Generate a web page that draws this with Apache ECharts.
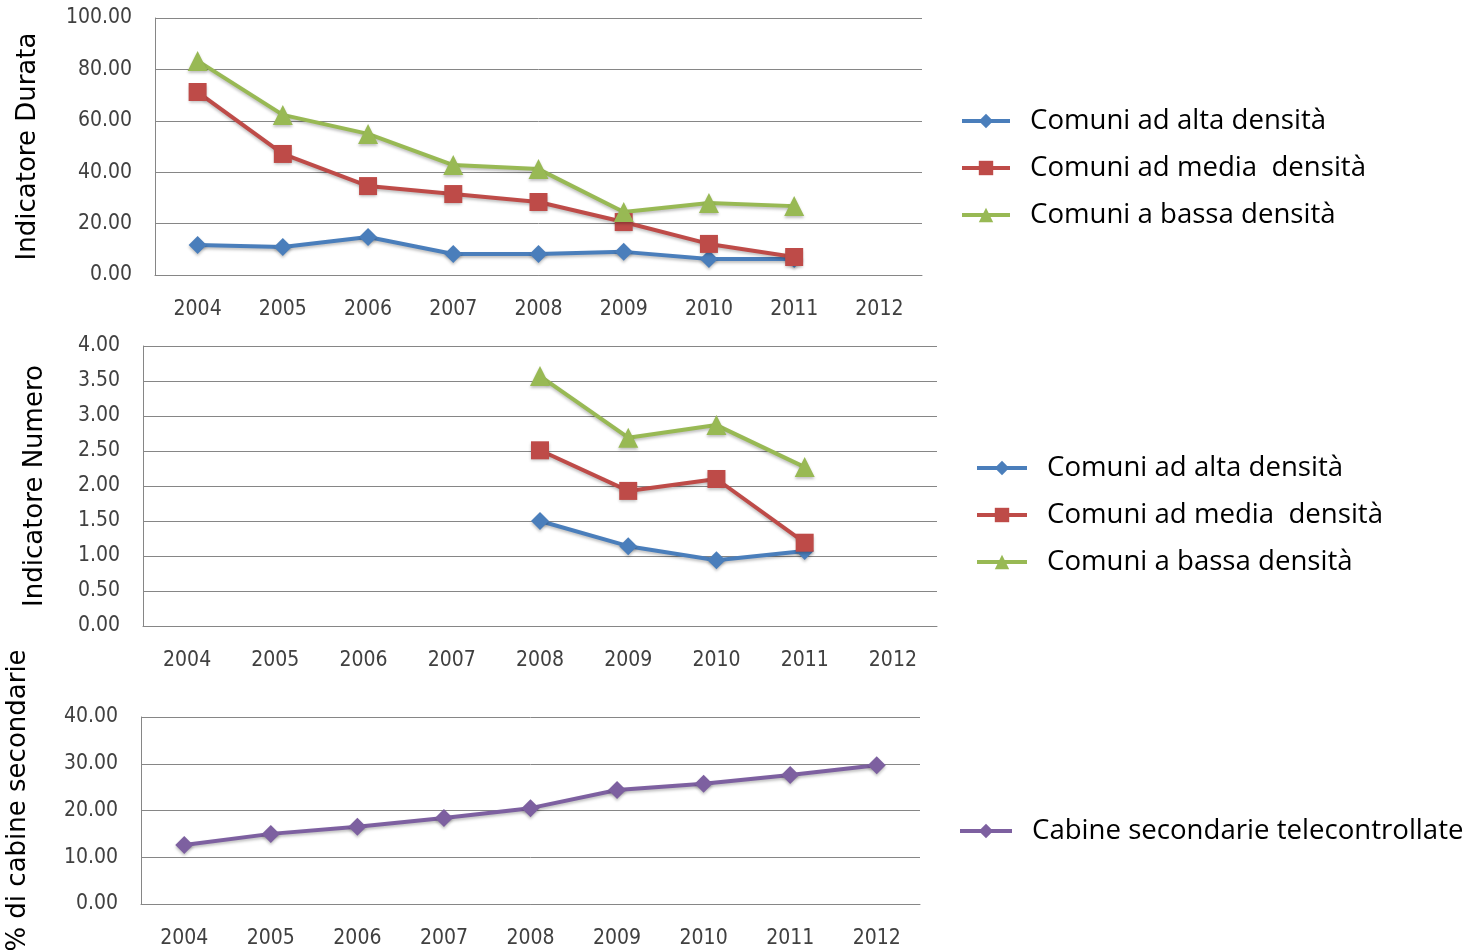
<!DOCTYPE html>
<html>
<head>
<meta charset="utf-8">
<script src="https://cdn.jsdelivr.net/npm/echarts@6/dist/echarts.min.js"></script>
<style>
html,body{margin:0;padding:0;background:#fff;}
#c{width:1474px;height:950px;}
</style>
</head>
<body>
<div id="c"></div>
<script>
const years = ['2004','2005','2006','2007','2008','2009','2010','2011','2012'];

const nameAlta = 'Comuni ad alta densità';
const nameMedia = 'Comuni ad media  densità';
const nameBassa = 'Comuni a bassa densità';
const nameCabine = 'Cabine secondarie telecontrollate';

// Chart 1: Indicatore Durata
const durataAlta  = [11.7, 10.9, 14.8, 8.2, 8.2, 9.0, 6.2, 6.2, null];
const durataMedia = [71.2, 47.1, 34.6, 31.5, 28.4, 20.6, 12.1, 7.0, null];
const durataBassa = [83.3, 62.3, 54.9, 42.8, 41.2, 24.5, 28.0, 26.8, null];

// Chart 2: Indicatore Numero
const numeroAlta  = [null, null, null, null, 1.50, 1.14, 0.94, 1.07, null];
const numeroMedia = [null, null, null, null, 2.51, 1.93, 2.10, 1.19, null];
const numeroBassa = [null, null, null, null, 3.57, 2.69, 2.87, 2.27, null];

// Chart 3: % di cabine secondarie
const cabine = [12.6, 15.0, 16.5, 18.4, 20.5, 24.4, 25.7, 27.6, 29.7];

const C_BLUE = '#4A7EBB', C_RED = '#BE4B48', C_GREEN = '#98B954', C_PURPLE = '#7D60A0';
const tickFont = '"DejaVu Sans Condensed","Liberation Sans Narrow","Liberation Sans",sans-serif';
const textFont = '"Open Sans","Liberation Sans",sans-serif';
const titleFont = '"DejaVu Sans",sans-serif';

function xAx(gi){
  return {type:'category', gridIndex:gi, data:years, boundaryGap:true,
    axisLine:{show:true, lineStyle:{color:'#868686', width:1}},
    axisTick:{show:false},
    axisLabel:{color:'#404040', fontSize:21, fontFamily:tickFont, margin:24}};
}
function yAx(gi, max, interval, name, gap, pad){
  return {type:'value', gridIndex:gi, min:0, max:max, interval:interval,
    name:name, nameLocation:'middle', nameGap:gap,
    nameTextStyle:{fontSize:26, fontFamily:titleFont, color:'#000', padding:pad},
    axisLine:{show:true, lineStyle:{color:'#868686', width:1}},
    axisTick:{show:false},
    splitLine:{show:true, lineStyle:{color:'#868686', width:1}},
    axisLabel:{color:'#404040', fontSize:21, fontFamily:tickFont, margin:23,
      formatter: v => v.toFixed(2)}};
}
function ser(name, data, gi, color, symbol, size){
  return {type:'line', name:name, data:data, xAxisIndex:gi, yAxisIndex:gi,
    symbol:symbol, symbolSize:size, showSymbol:true, connectNulls:false,
    lineStyle:{color:color, width:4, shadowColor:'rgba(0,0,0,0.25)', shadowBlur:3, shadowOffsetY:2},
    itemStyle:{color:color, shadowColor:'rgba(0,0,0,0.25)', shadowBlur:3, shadowOffsetY:2}};
}
function leg(names, left, top, w){
  return {orient:'vertical', left:left, top:top, data:names,
    itemWidth:w, itemHeight:18, itemGap:17,
    lineStyle:{width:4},
    textStyle:{fontSize:27.6, fontFamily:textFont, color:'#000', lineHeight:30, padding:[0,0,0,15]},
    selectedMode:false};
}

const chart = echarts.init(document.getElementById('c'), null, {renderer:'canvas'});
chart.setOption({
  animation:false,
  backgroundColor:'#fff',
  grid:[
    {left:155, top:18, width:767, height:257, outerBoundsMode:'none', containLabel:false},
    {left:143, top:346, width:794, height:280, outerBoundsMode:'none', containLabel:false},
    {left:141, top:717, width:779, height:187, outerBoundsMode:'none', containLabel:false}
  ],
  xAxis:[xAx(0), xAx(1), xAx(2)],
  yAxis:[
    yAx(0, 100, 20, 'Indicatore Durata', 114, [0,0,0,0]),
    yAx(1, 4, 0.5, 'Indicatore Numero', 95, [0,0,0,0]),
    yAx(2, 40, 10, '% di cabine secondarie', 110, [0,0,0,20])
  ],
  legend:[
    leg([nameAlta, nameMedia, nameBassa], 955, 101, 48),
    leg([nameAlta, nameMedia, nameBassa], 970, 448, 50),
    leg([nameCabine], 953, 811, 52)
  ],
  series:[
    ser(nameAlta, durataAlta, 0, C_BLUE, 'diamond', 18),
    ser(nameMedia, durataMedia, 0, C_RED, 'rect', 18),
    ser(nameBassa, durataBassa, 0, C_GREEN, 'triangle', 20),
    ser(nameAlta, numeroAlta, 1, C_BLUE, 'diamond', 18),
    ser(nameMedia, numeroMedia, 1, C_RED, 'rect', 18),
    ser(nameBassa, numeroBassa, 1, C_GREEN, 'triangle', 20),
    ser(nameCabine, cabine, 2, C_PURPLE, 'diamond', 18)
  ]
});
</script>
</body>
</html>
